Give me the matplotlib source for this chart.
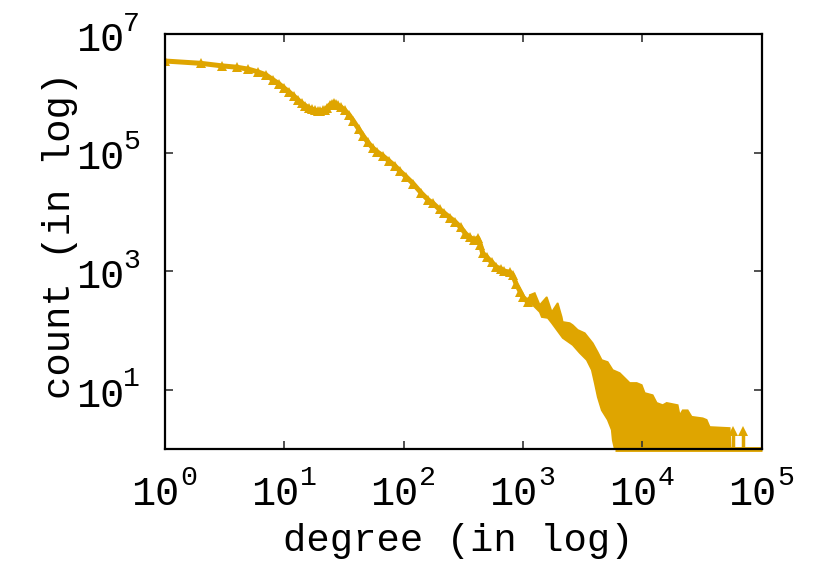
import math
import matplotlib
matplotlib.use("Agg")
import matplotlib.pyplot as plt
from matplotlib.ticker import FixedLocator, NullLocator, NullFormatter

# ---- data (degree, count) ----
degree = [1, 2, 3, 4, 5, 6, 7, 8, 9, 10, 11, 12, 13, 14, 15, 16, 17, 18, 19, 20,
          21, 22, 23, 24, 25, 26, 27, 28, 30, 32, 35, 38, 42, 46, 50, 55, 60, 67,
          75, 85, 93, 105, 120, 140, 160, 176, 200, 220, 244, 270, 300, 330, 358,
          390, 418, 440, 460, 500, 550, 600, 650, 700, 775, 820, 880, 950, 1000,
          1100, 1140]
count = [3.5e6, 3.2e6, 2.9e6, 2.75e6, 2.55e6, 2.3e6, 2.05e6, 1.7e6, 1.45e6, 1.22e6,
         1.05e6, 9.0e5, 7.8e5, 6.8e5, 6.2e5, 5.7e5, 5.4e5, 5.2e5, 5.1e5, 5.1e5,
         5.15e5, 5.3e5, 5.7e5, 6.3e5, 6.7e5, 6.8e5, 6.6e5, 6.3e5, 5.8e5, 5.2e5,
         4.3e5, 3.4e5, 2.5e5, 1.9e5, 1.5e5, 1.2e5, 1.03e5, 8.8e4, 7.3e4, 5.9e4,
         4.9e4, 3.9e4, 3.0e4, 2.1e4, 1.6e4, 1.4e4, 1.1e4, 9.5e3, 8.0e3, 6.8e3,
         5.5e3, 4.3e3, 3.7e3, 3.4e3, 3.6e3, 2.8e3, 2.0e3, 1.7e3, 1.4e3, 1.17e3,
         1.1e3, 1.0e3, 960, 850, 600, 450, 365, 300, 340]

# noisy tail: upper and lower envelope of the scattered points
upper_degree = [1140, 1256, 1383, 1583, 1743, 1955, 2113, 2153, 2465, 2612, 2876,
                3296, 3845, 4230, 4570, 5130, 5650, 6470, 7120, 7850, 8980, 9890,
                10480, 12220, 13200, 14830, 16000, 19800, 20570, 21800, 24000,
                25900, 32100, 34600, 36700, 54000, 55000]
upper_count = [395, 427, 268, 366, 204, 290, 168, 139, 133, 123, 102, 90, 61, 43,
               31.7, 29.3, 21.5, 19.1, 15.8, 13, 13, 12, 8.8, 8.1, 6.0, 5.5, 6.0,
               5.5, 3.7, 4.5, 4.5, 3.5, 3.3, 3.1, 2.35, 2.26, 1]
lower_degree = [1140, 1383, 1437, 1614, 1743, 1920, 2153, 2612, 2990, 3423, 3770,
                3990, 4230, 4570, 5130, 5540, 5650, 5870, 55000]
lower_count = [301, 204, 168, 162, 133, 102, 74.5, 56.7, 41.6, 31.7, 21.5, 13, 7.5,
               4.5, 3.1, 2.1, 1.4, 1, 1]

spike_degree = [57200, 69300]
spike_count = [2, 2]

floor_degree = [5870, 100000]
floor_count = [1, 1]

x_ticks = [1, 10, 100, 1000, 10000, 100000]
y_ticks = [10, 1000, 100000, 10000000]

color = "#DFA500"
FONT = ["Liberation Mono", "DejaVu Sans Mono"]
plt.rcParams["font.family"] = FONT

fig = plt.figure(figsize=(8.37, 5.74), dpi=100)
ax = fig.add_axes([0.197, 0.2178, 0.713, 0.723])

ax.plot(degree, count, color=color, lw=3.6, marker="^", ms=6.5, mew=0,
        solid_joinstyle="round", solid_capstyle="round")
ax.fill(upper_degree + lower_degree[::-1], upper_count + lower_count[::-1],
        color=color, lw=1.2, edgecolor=color)
ax.vlines(spike_degree, 1, spike_count, color=color, lw=2.5)
ax.plot(spike_degree, spike_count, "^", color=color, ms=7, mew=0)
ax.plot(floor_degree, floor_count, color=color, lw=3.5, clip_on=False,
        solid_capstyle="butt")

ax.set_xscale("log")
ax.set_yscale("log")
ax.set_xlim(1, 1e5)
ax.set_ylim(1, 1e7)

ax.xaxis.set_major_locator(FixedLocator(x_ticks))
ax.yaxis.set_major_locator(FixedLocator(y_ticks))
ax.xaxis.set_minor_locator(NullLocator())
ax.yaxis.set_minor_locator(NullLocator())
ax.xaxis.set_major_formatter(NullFormatter())
ax.yaxis.set_major_formatter(NullFormatter())

ax.tick_params(which="both", direction="in", top=True, right=True, length=6,
               width=1.2, color="#333333")

for s in ax.spines.values():
    s.set_linewidth(1.6)
    s.set_color("black")
    s.set_zorder(5)

BASE = 29
SUP = BASE * 0.7

# x tick labels: "10" with raised exponent
for t in x_ticks:
    e = int(round(math.log10(t)))
    ax.annotate("10", xy=(t, 0), xycoords=("data", "axes fraction"),
                xytext=(10.5, -40.5), textcoords="offset points",
                ha="right", va="baseline", fontsize=BASE, annotation_clip=False)
    ax.annotate(str(e), xy=(t, 0), xycoords=("data", "axes fraction"),
                xytext=(11.2, -25.6), textcoords="offset points",
                ha="left", va="baseline", fontsize=SUP, annotation_clip=False)

# y tick labels
for t in y_ticks:
    e = int(round(math.log10(t)))
    ax.annotate("10", xy=(0, t), xycoords=("axes fraction", "data"),
                xytext=(-29.5, -12.2), textcoords="offset points",
                ha="right", va="baseline", fontsize=BASE, annotation_clip=False)
    ax.annotate(str(e), xy=(0, t), xycoords=("axes fraction", "data"),
                xytext=(-30.0, 2.5), textcoords="offset points",
                ha="left", va="baseline", fontsize=SUP, annotation_clip=False)

fig.text(458 / 837, 1 - 551 / 574, "degree (in log)", fontsize=28,
         ha="center", va="baseline")
fig.text(60 / 837, 1 - 235 / 574, "count (in log)", fontsize=28,
         ha="center", va="center", rotation=90)

fig.savefig("out.png", dpi=100)
